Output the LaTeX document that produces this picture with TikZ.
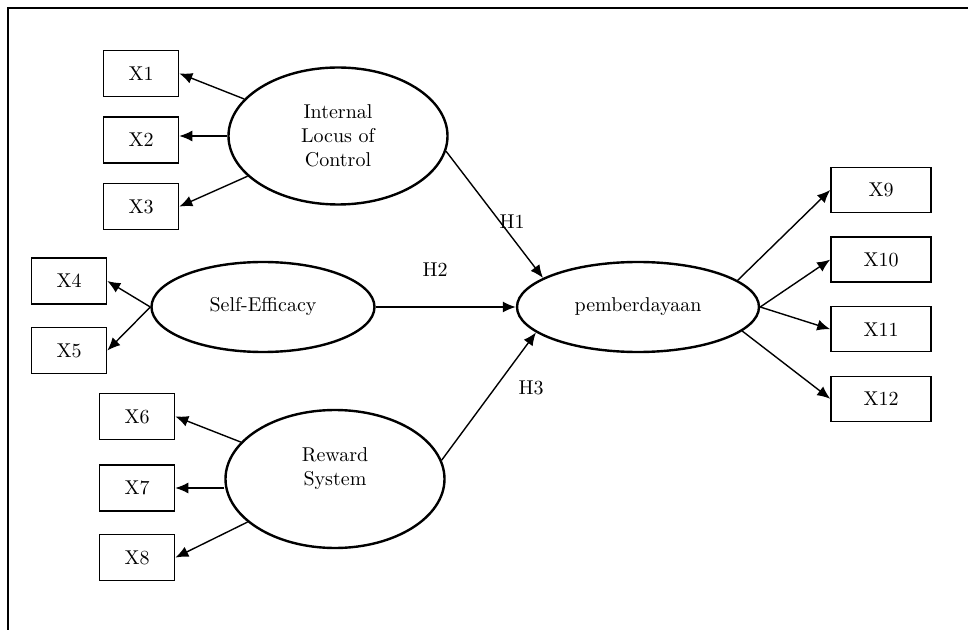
\documentclass[tikz,border=0pt]{standalone}
\usetikzlibrary{positioning}
\usetikzlibrary{arrows.meta}
\usetikzlibrary{shapes.geometric}

\tikzset{
  latent/.style={ellipse, draw, line width=1.2pt, inner sep=0pt, align=center},
  ind/.style={rectangle, draw, line width=0.8pt, minimum width=37.5pt, minimum height=23pt},
  indw/.style={ind, minimum width=50pt, minimum height=22.5pt},
  link/.style={->, line width=0.7pt},
}

\begin{document}
\begin{tikzpicture}[x=0.5pt, y=-0.5pt, >={Latex[length=6.5pt,width=5.5pt]}]
      \useasboundingbox (0,0) rectangle (968,630);
      \draw[line width=0.8pt] (8,630) -- (8,8) -- (968,8);

      % latent variables
      \node[latent, minimum width=109.5pt, minimum height=68.5pt] (iloc) at (338,136) {Internal\\Locus of\\Control};
      \node[latent, minimum width=111.5pt, minimum height=45pt] (se) at (263,307) {Self-Efficacy};
      \node[latent, minimum width=109.5pt, minimum height=69pt] (rs) at (335,479) {Reward\\System\\\mbox{}};
      \node[latent, minimum width=121pt, minimum height=45pt] (pemb) at (638,307) {pemberdayaan};

      % indicators
      \node[ind, left=24pt of iloc, yshift=-2pt] (x2) {X2};
      \node[ind, above=9.5pt of x2] (x1) {X1};
      \node[ind, below=9.5pt of x2] (x3) {X3};
      \node[ind] (x4) at (69,281) {X4};
      \node[ind, below=11pt of x4] (x5) {X5};
      \node[ind, left=24.5pt of rs, yshift=-4.5pt] (x7) {X7};
      \node[ind, above=12pt of x7] (x6) {X6};
      \node[ind, below=11pt of x7] (x8) {X8};
      \node[indw] (x9) at (881,190) {X9};
      \node[indw, below=11.5pt of x9] (x10) {X10};
      \node[indw, below=11.5pt of x10] (x11) {X11};
      \node[indw, below=11.5pt of x11] (x12) {X12};

      \draw[link] (iloc) -- (x1.east);
      \draw[link] (iloc.west) -- (iloc.west -| x2.east);
      \draw[link] (iloc) -- (x3.east);
      \draw[link] (se.west) -- (x4.east);
      \draw[link] (se.west) -- (x5.east);
      \draw[link] (rs) -- (x6.east);
      \draw[link] (x7.east -| rs.west) -- (x7.east);
      \draw[link] (rs) -- (x8.east);

      % hypotheses
      \draw[link] (iloc.-8) -- (pemb.163);
      \draw[link] (se) -- (pemb);
      \draw[link] (rs.10) -- (pemb.194);
      \node (h1) at (512,222) {H1};
      \node (h2) at (435,270) {H2};
      \node (h3) at (531,388) {H3};

      \draw[link] (pemb.15) -- (x9.west);
      \draw[link] (pemb.east) -- (x10.west);
      \draw[link] (pemb.east) -- (x11.west);
      \draw[link] (pemb.-13) -- (x12.west);
\end{tikzpicture}
\end{document}
